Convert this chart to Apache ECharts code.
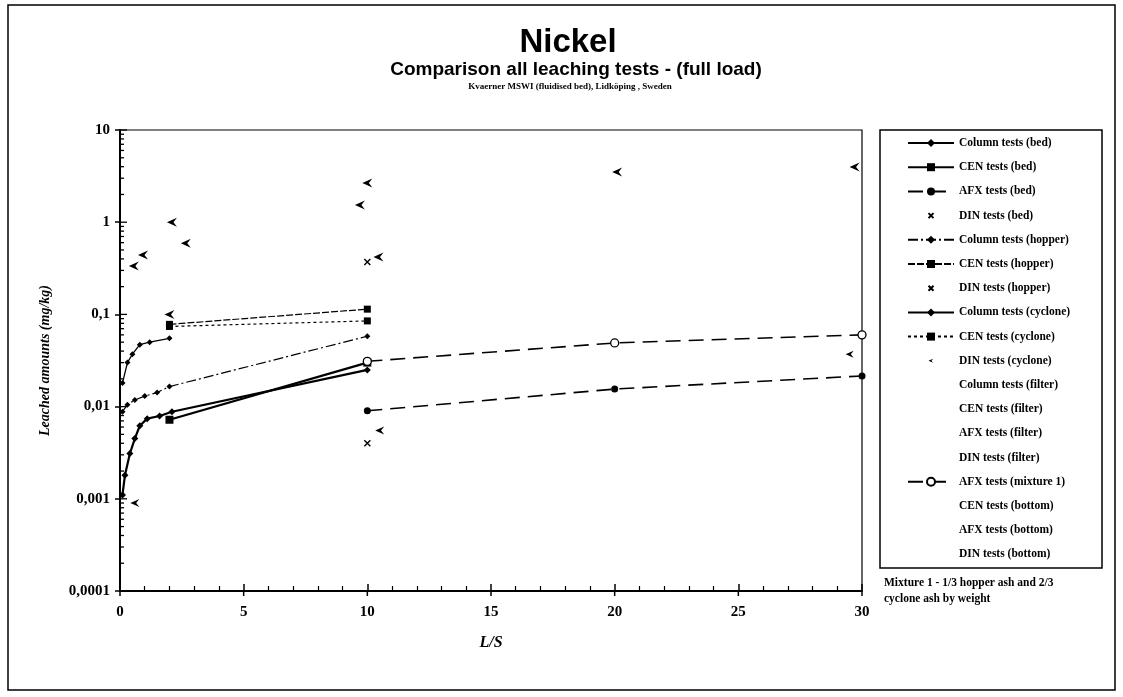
<!DOCTYPE html>
<html>
<head>
<meta charset="utf-8">
<script src="https://cdn.jsdelivr.net/npm/echarts@6/dist/echarts.min.js"></script>
<style>
  html, body { margin: 0; padding: 0; background: #fff; }
  #chart { width: 1123px; height: 697px; }
</style>
</head>
<body>
<div id="chart"></div>
<script>
// Nickel leached (mg/kg) against liquid/solid ratio L/S, for each ash fraction and test type.
const yTickLabels = ['0,0001', '0,001', '0,01', '0,1', '1', '10'];
const xMajorTicks = [0, 5, 10, 15, 20, 25, 30];

const colBedLS = [0.1, 0.2, 0.4, 0.6, 0.8, 1.1, 1.6, 2.1, 10];
const colBedNi = [0.0011, 0.0018, 0.0031, 0.0045, 0.0062, 0.0074, 0.0079, 0.0088, 0.025];
const cenBedLS = [2, 10];
const cenBedNi = [0.0072, 0.03];
const afxBedLS = [10, 20, 30];
const afxBedNi = [0.009, 0.0155, 0.0215];
const dinBedLS = [10];
const dinBedNi = [0.004];

const colHopLS = [0.1, 0.3, 0.6, 1.0, 1.5, 2.0, 10];
const colHopNi = [0.0088, 0.0105, 0.0118, 0.013, 0.0142, 0.0165, 0.058];
const cenHopLS = [2, 10];
const cenHopNi = [0.078, 0.114];
const dinHopLS = [10];
const dinHopNi = [0.37];

const colCycLS = [0.1, 0.3, 0.5, 0.8, 1.2, 2.0];
const colCycNi = [0.018, 0.03, 0.037, 0.047, 0.05, 0.055];
const cenCycLS = [2, 10];
const cenCycNi = [0.074, 0.085];
const dinCycLS = [10.5];
const dinCycNi = [0.0055];

const colFilLS = [0.56, 0.93, 2.1];
const colFilNi = [0.335, 0.44, 1.0];
const cenFilLS = [2.66, 9.7];
const cenFilNi = [0.59, 1.54];
const afxFilLS = [10, 20.1, 29.7];
const afxFilNi = [2.66, 3.5, 3.98];
const dinFilLS = [10.45];
const dinFilNi = [0.42];

const afxMixLS = [10, 20, 30];
const afxMixNi = [0.031, 0.049, 0.06];

const cenBotLS = [2.0];
const cenBotNi = [0.1];
const afxBotLS = [29.5];
const afxBotNi = [0.037];
const dinBotLS = [0.6];
const dinBotNi = [0.0009];

const pairs = (xs, ys) => xs.map((x, i) => [x, ys[i]]);

const ARROW = 'path://M10,0 L0,4.5 L10,9 L6.5,4.5 Z';
const CROSS = 'path://M0,0 L10,10 M10,0 L0,10';
// smaller glyphs for the legend keys (extra move-to points widen the box so the glyph shrinks)
const CROSS_KEY = 'path://M0,0 M20,20 M5,5 L15,15 M15,5 L5,15';
const ARROW_KEY = 'path://M0,0 M20,20 M14,6 L5,10 L14,14 L11,10 Z';
const SERIF = '"Liberation Serif", "DejaVu Serif", serif';

function lineSeries(name, xs, ys, symbol, size, width, type, hollow) {
  return {
    name, type: 'line', data: pairs(xs, ys),
    symbol, symbolSize: size, showSymbol: true,
    lineStyle: { color: '#000', width, type },
    itemStyle: hollow ? { color: '#fff', borderColor: '#000', borderWidth: 1.3, opacity: 1 }
                      : { color: '#000', opacity: 1 },
    emphasis: { disabled: true }, animation: false, z: 3
  };
}
function dotSeries(name, xs, ys, symbol, size) {
  return {
    name, type: 'scatter', data: pairs(xs, ys),
    symbol, symbolSize: size,
    itemStyle: { color: '#000', borderColor: '#000', borderWidth: symbol === CROSS ? 1.4 : 0, opacity: 1 },
    emphasis: { disabled: true }, animation: false, z: 3
  };
}

// log tick marks drawn on the inner side of the value axis (majors longer)
const yInnerTicks = [];
for (let e = -4; e <= 0; e++) {
  for (let m = 1; m <= 9; m++) yInnerTicks.push([0, m * Math.pow(10, e), m === 1 ? 7 : 4]);
}
yInnerTicks.push([0, 10, 7]);

const series = [
  lineSeries('Column tests (bed)', colBedLS, colBedNi, 'diamond', 7, 2.2, 'solid'),
  lineSeries('CEN tests (bed)', cenBedLS, cenBedNi, 'rect', 8, 2.2, 'solid'),
  lineSeries('AFX tests (bed)', afxBedLS, afxBedNi, 'circle', 7, 1.6, [15, 8]),
  dotSeries('DIN tests (bed)', dinBedLS, dinBedNi, CROSS, 6),
  lineSeries('Column tests (hopper)', colHopLS, colHopNi, 'diamond', 6, 1.2, [10, 3, 2, 3]),
  lineSeries('CEN tests (hopper)', cenHopLS, cenHopNi, 'rect', 7, 1.2, [7, 2]),
  dotSeries('DIN tests (hopper)', dinHopLS, dinHopNi, CROSS, 6),
  lineSeries('Column tests (cyclone)', colCycLS, colCycNi, 'diamond', 6, 1.3, 'solid'),
  lineSeries('CEN tests (cyclone)', cenCycLS, cenCycNi, 'rect', 7, 1.2, [3, 3]),
  dotSeries('DIN tests (cyclone)', dinCycLS, dinCycNi, ARROW, [9, 8]),
  dotSeries('Column tests (filter)', colFilLS, colFilNi, ARROW, [10, 9]),
  dotSeries('CEN tests (filter)', cenFilLS, cenFilNi, ARROW, [10, 9]),
  dotSeries('AFX tests (filter)', afxFilLS, afxFilNi, ARROW, [10, 9]),
  dotSeries('DIN tests (filter)', dinFilLS, dinFilNi, ARROW, [10, 9]),
  lineSeries('AFX tests (mixture 1)', afxMixLS, afxMixNi, 'circle', 8, 1.6, [15, 8], true),
  dotSeries('CEN tests (bottom)', cenBotLS, cenBotNi, ARROW, [10, 9]),
  dotSeries('AFX tests (bottom)', afxBotLS, afxBotNi, ARROW, [8, 7]),
  dotSeries('DIN tests (bottom)', dinBotLS, dinBotNi, ARROW, [9, 8]),
  {
    type: 'custom', silent: true, animation: false, z: 5,
    data: yInnerTicks, encode: { x: 0, y: 1 },
    renderItem(params, api) {
      const p = api.coord([0, api.value(1)]);
      const len = api.value(2);
      return { type: 'line', shape: { x1: p[0], y1: p[1], x2: p[0] + len, y2: p[1] },
               style: { stroke: '#000', lineWidth: 1.3 } };
    }
  },
  {
    // outer halves of the major L/S ticks, so they cross the axis line
    type: 'custom', silent: true, animation: false, z: 5,
    data: xMajorTicks.map(v => [v, 0.0001]), encode: { x: 0, y: 1 },
    renderItem(params, api) {
      const p = api.coord([api.value(0), api.value(1)]);
      return { type: 'line', shape: { x1: p[0], y1: p[1], x2: p[0], y2: p[1] + 5 },
               style: { stroke: '#000', lineWidth: 1.5 } };
    }
  }
];

const noIcon = ['Column tests (filter)', 'CEN tests (filter)', 'AFX tests (filter)', 'DIN tests (filter)',
                'CEN tests (bottom)', 'AFX tests (bottom)', 'DIN tests (bottom)'];
const legendData = series.filter(s => s.name).map(s => {
  if (noIcon.includes(s.name)) return { name: s.name, itemStyle: { opacity: 0 }, lineStyle: { opacity: 0 } };
  if (s.symbol === CROSS) return { name: s.name, icon: CROSS_KEY };
  if (s.symbol === ARROW) return { name: s.name, icon: ARROW_KEY };
  return { name: s.name };
});

const chart = echarts.init(document.getElementById('chart'), null, { renderer: 'canvas' });
chart.setOption({
  backgroundColor: '#fff',
  animation: false,
  title: [
    { text: 'Nickel', left: 563, top: 21, textAlign: 'center',
      textStyle: { fontFamily: '"Liberation Sans", Arial, sans-serif', fontWeight: 'bold', fontSize: 33, color: '#000' } },
    { text: 'Comparison all leaching tests - (full load)', left: 571, top: 55, textAlign: 'center',
      textStyle: { fontFamily: '"Liberation Sans", Arial, sans-serif', fontWeight: 'bold', fontSize: 19, color: '#000' } },
    { text: 'Kvaerner MSWI (fluidised bed), Lidköping , Sweden', left: 565, top: 77, textAlign: 'center',
      textStyle: { fontFamily: SERIF, fontWeight: 'bold', fontSize: 9, color: '#000' } }
  ],
  grid: { left: 120, top: 130, width: 742, height: 461, show: true, borderColor: '#000', borderWidth: 1.2, containLabel: false },
  xAxis: {
    type: 'value', min: 0, max: 30, interval: 5,
    name: 'L/S', nameLocation: 'middle', nameGap: 44,
    nameTextStyle: { fontFamily: SERIF, fontStyle: 'italic', fontWeight: 'bold', fontSize: 16, color: '#000' },
    axisLine: { lineStyle: { color: '#000', width: 2 } },
    axisTick: { inside: true, length: 7, lineStyle: { color: '#000', width: 1.5 } },
    minorTick: { show: true, splitNumber: 5, length: 5, lineStyle: { color: '#000', width: 1.2 } },
    splitLine: { show: false },
    axisLabel: { margin: 14, fontFamily: SERIF, fontWeight: 'bold', fontSize: 15, color: '#000' }
  },
  yAxis: {
    type: 'log', logBase: 10, min: 0.0001, max: 10,
    name: 'Leached amounts (mg/kg)', nameLocation: 'middle', nameGap: 68,
    nameTextStyle: { fontFamily: SERIF, fontStyle: 'italic', fontWeight: 'bold', fontSize: 14, color: '#000' },
    axisLine: { lineStyle: { color: '#000', width: 2 } },
    axisTick: { inside: false, length: 5, lineStyle: { color: '#000', width: 1.5 } },
    splitLine: { show: false },
    axisLabel: { margin: 10, fontFamily: SERIF, fontWeight: 'bold', fontSize: 15, color: '#000',
      formatter: v => yTickLabels[Math.round(Math.log10(v)) + 4] }
  },
  legend: {
    orient: 'vertical', left: 907, top: 137, padding: 0,
    itemWidth: 46, itemHeight: 10, itemGap: 12.2,
    data: legendData,
    selectedMode: false,
    textStyle: { fontFamily: SERIF, fontWeight: 'bold', fontSize: 11.5, color: '#000' }
  },
  graphic: [
    { type: 'rect', shape: { x: 8, y: 5, width: 1107, height: 685 }, style: { fill: 'none', stroke: '#000', lineWidth: 1.5 }, silent: true },
    { type: 'rect', shape: { x: 880, y: 130, width: 222, height: 438 }, style: { fill: 'none', stroke: '#000', lineWidth: 1.5 }, silent: true },
    { type: 'text', left: 884, top: 575, silent: true,
      style: { text: 'Mixture 1 - 1/3 hopper ash and 2/3\ncyclone ash by weight', fill: '#000',
               font: 'bold 11.5px "Liberation Serif", serif', lineHeight: 16 } }
  ],
  series
});
</script>
</body>
</html>
